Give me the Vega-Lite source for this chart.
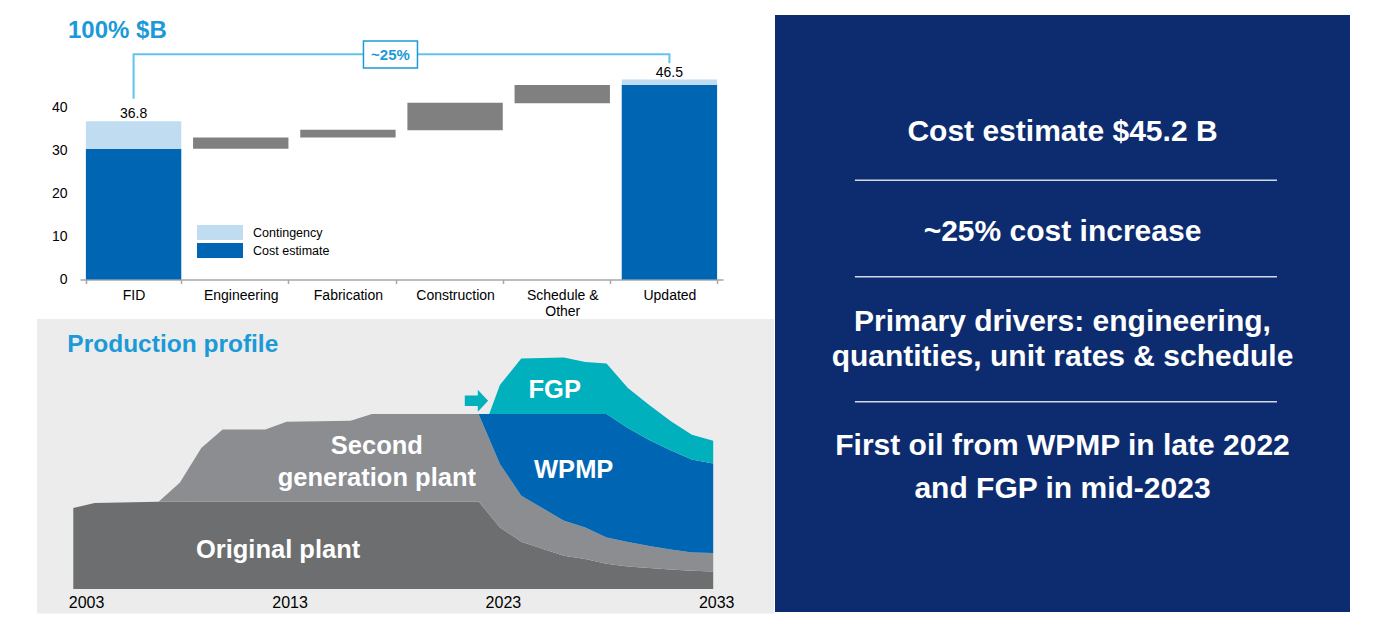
{
  "$schema": "https://vega.github.io/schema/vega-lite/v6.json",
  "background": "white",
  "padding": {"left": 37, "top": 15, "right": 0, "bottom": 0},
  "spacing": 1,
  "resolve": {"scale": {"color": "independent"}},
  "config": {"view": {"stroke": null}, "font": "Liberation Sans"},
  "datasets": {
    "wf": [
      {"cat": "FID", "lo": 0, "hi": 30.4, "kind": "Cost estimate"},
      {"cat": "FID", "lo": 30.4, "hi": 36.8, "kind": "Contingency"},
      {"cat": "Engineering", "lo": 30.4, "hi": 33.0, "kind": "Change"},
      {"cat": "Fabrication", "lo": 33.0, "hi": 34.8, "kind": "Change"},
      {"cat": "Construction", "lo": 34.7, "hi": 41.1, "kind": "Change"},
      {"cat": "Schedule & Other", "lo": 41.0, "hi": 45.2, "kind": "Change"},
      {"cat": "Updated", "lo": 0, "hi": 45.2, "kind": "Cost estimate"},
      {"cat": "Updated", "lo": 45.2, "hi": 46.5, "kind": "Contingency"}
    ],
    "wfLabels": [
      {"cat": "FID", "v": 36.8, "label": "36.8"},
      {"cat": "Updated", "v": 46.5, "label": "46.5"}
    ],
    "bracket": [
      {"cat": "FID", "v": 42.0, "o": 1},
      {"cat": "FID", "v": 52.4, "o": 2},
      {"cat": "Updated", "v": 52.4, "o": 3},
      {"cat": "Updated", "v": 50.3, "o": 4}
    ],
    "box": [{"cat": "Fabrication", "v": 52.3, "label": "~25%"}],
    "panelBg": [{"y0": 2001.3, "y1": 2035.85, "v0": -2.44, "v1": 27}],
    "prod": [
      {"year": 2003, "series": "Original plant", "k": 1, "v": 8.1},
      {"year": 2004, "series": "Original plant", "k": 1, "v": 8.6},
      {"year": 2007, "series": "Original plant", "k": 1, "v": 8.73},
      {"year": 2008, "series": "Original plant", "k": 1, "v": 8.73},
      {"year": 2009, "series": "Original plant", "k": 1, "v": 8.74},
      {"year": 2010, "series": "Original plant", "k": 1, "v": 8.75},
      {"year": 2012, "series": "Original plant", "k": 1, "v": 8.75},
      {"year": 2013, "series": "Original plant", "k": 1, "v": 8.75},
      {"year": 2016, "series": "Original plant", "k": 1, "v": 8.76},
      {"year": 2017, "series": "Original plant", "k": 1, "v": 8.76},
      {"year": 2022, "series": "Original plant", "k": 1, "v": 8.76},
      {"year": 2022.5, "series": "Original plant", "k": 1, "v": 7.46},
      {"year": 2023, "series": "Original plant", "k": 1, "v": 6.16},
      {"year": 2024, "series": "Original plant", "k": 1, "v": 4.73},
      {"year": 2026, "series": "Original plant", "k": 1, "v": 3.33},
      {"year": 2027, "series": "Original plant", "k": 1, "v": 3.0},
      {"year": 2028, "series": "Original plant", "k": 1, "v": 2.52},
      {"year": 2029, "series": "Original plant", "k": 1, "v": 2.25},
      {"year": 2030, "series": "Original plant", "k": 1, "v": 2.1},
      {"year": 2031, "series": "Original plant", "k": 1, "v": 1.95},
      {"year": 2032, "series": "Original plant", "k": 1, "v": 1.82},
      {"year": 2033, "series": "Original plant", "k": 1, "v": 1.76},
      {"year": 2003, "series": "Second generation plant", "k": 2, "v": 0},
      {"year": 2004, "series": "Second generation plant", "k": 2, "v": 0},
      {"year": 2007, "series": "Second generation plant", "k": 2, "v": 0},
      {"year": 2008, "series": "Second generation plant", "k": 2, "v": 1.93},
      {"year": 2009, "series": "Second generation plant", "k": 2, "v": 5.36},
      {"year": 2010, "series": "Second generation plant", "k": 2, "v": 7.21},
      {"year": 2012, "series": "Second generation plant", "k": 2, "v": 7.21},
      {"year": 2013, "series": "Second generation plant", "k": 2, "v": 7.98},
      {"year": 2016, "series": "Second generation plant", "k": 2, "v": 8.07},
      {"year": 2017, "series": "Second generation plant", "k": 2, "v": 8.74},
      {"year": 2022, "series": "Second generation plant", "k": 2, "v": 8.74},
      {"year": 2022.5, "series": "Second generation plant", "k": 2, "v": 7.54},
      {"year": 2023, "series": "Second generation plant", "k": 2, "v": 6.34},
      {"year": 2024, "series": "Second generation plant", "k": 2, "v": 4.6},
      {"year": 2026, "series": "Second generation plant", "k": 2, "v": 3.5},
      {"year": 2027, "series": "Second generation plant", "k": 2, "v": 3.16},
      {"year": 2028, "series": "Second generation plant", "k": 2, "v": 2.64},
      {"year": 2029, "series": "Second generation plant", "k": 2, "v": 2.45},
      {"year": 2030, "series": "Second generation plant", "k": 2, "v": 2.2},
      {"year": 2031, "series": "Second generation plant", "k": 2, "v": 2.0},
      {"year": 2032, "series": "Second generation plant", "k": 2, "v": 1.84},
      {"year": 2033, "series": "Second generation plant", "k": 2, "v": 1.84},
      {"year": 2003, "series": "WPMP", "k": 3, "v": 0},
      {"year": 2004, "series": "WPMP", "k": 3, "v": 0},
      {"year": 2007, "series": "WPMP", "k": 3, "v": 0},
      {"year": 2008, "series": "WPMP", "k": 3, "v": 0},
      {"year": 2009, "series": "WPMP", "k": 3, "v": 0},
      {"year": 2010, "series": "WPMP", "k": 3, "v": 0},
      {"year": 2012, "series": "WPMP", "k": 3, "v": 0},
      {"year": 2013, "series": "WPMP", "k": 3, "v": 0},
      {"year": 2016, "series": "WPMP", "k": 3, "v": 0},
      {"year": 2017, "series": "WPMP", "k": 3, "v": 0},
      {"year": 2022, "series": "WPMP", "k": 3, "v": 0},
      {"year": 2022.5, "series": "WPMP", "k": 3, "v": 2.5},
      {"year": 2023, "series": "WPMP", "k": 3, "v": 5.0},
      {"year": 2024, "series": "WPMP", "k": 3, "v": 8.17},
      {"year": 2026, "series": "WPMP", "k": 3, "v": 10.67},
      {"year": 2027, "series": "WPMP", "k": 3, "v": 11.34},
      {"year": 2028, "series": "WPMP", "k": 3, "v": 12.34},
      {"year": 2029, "series": "WPMP", "k": 3, "v": 11.39},
      {"year": 2030, "series": "WPMP", "k": 3, "v": 10.59},
      {"year": 2031, "series": "WPMP", "k": 3, "v": 9.92},
      {"year": 2032, "series": "WPMP", "k": 3, "v": 9.3},
      {"year": 2033, "series": "WPMP", "k": 3, "v": 8.96},
      {"year": 2003, "series": "FGP", "k": 4, "v": 0},
      {"year": 2004, "series": "FGP", "k": 4, "v": 0},
      {"year": 2007, "series": "FGP", "k": 4, "v": 0},
      {"year": 2008, "series": "FGP", "k": 4, "v": 0},
      {"year": 2009, "series": "FGP", "k": 4, "v": 0},
      {"year": 2010, "series": "FGP", "k": 4, "v": 0},
      {"year": 2012, "series": "FGP", "k": 4, "v": 0},
      {"year": 2013, "series": "FGP", "k": 4, "v": 0},
      {"year": 2016, "series": "FGP", "k": 4, "v": 0},
      {"year": 2017, "series": "FGP", "k": 4, "v": 0},
      {"year": 2022, "series": "FGP", "k": 4, "v": 0},
      {"year": 2022.5, "series": "FGP", "k": 4, "v": 0},
      {"year": 2023, "series": "FGP", "k": 4, "v": 2.9},
      {"year": 2024, "series": "FGP", "k": 4, "v": 5.56},
      {"year": 2026, "series": "FGP", "k": 4, "v": 5.66},
      {"year": 2027, "series": "FGP", "k": 4, "v": 5.2},
      {"year": 2028, "series": "FGP", "k": 4, "v": 5.06},
      {"year": 2029, "series": "FGP", "k": 4, "v": 4.01},
      {"year": 2030, "series": "FGP", "k": 4, "v": 3.51},
      {"year": 2031, "series": "FGP", "k": 4, "v": 2.93},
      {"year": 2032, "series": "FGP", "k": 4, "v": 2.47},
      {"year": 2033, "series": "FGP", "k": 4, "v": 2.27}
    ],
    "prodLabels": [
      {"year": 2017.23, "v": 14.28, "label": "Second"},
      {"year": 2017.23, "v": 11.08, "label": "generation plant"},
      {"year": 2012.6, "v": 3.88, "label": "Original plant"},
      {"year": 2026.46, "v": 11.88, "label": "WPMP"},
      {"year": 2025.57, "v": 19.88, "label": "FGP"}
    ],
    "prodTitle": [{"year": 2002.72, "v": 24.38, "label": "Production profile"}],
    "arrow": [{"year": 2021.9, "v": 18.83}],
    "panelRules": [{"p": 27.69}, {"p": 43.84}, {"p": 64.77}],
    "panelText": [
      {"t": "Cost estimate $45.2 B", "p": 19.68},
      {"t": "~25% cost increase", "p": 36.35},
      {"t": "Primary drivers: engineering,", "p": 51.37},
      {"t": "quantities, unit rates & schedule", "p": 57.24},
      {"t": "First oil from WPMP in late 2022", "p": 72.14},
      {"t": "and FGP in mid-2023", "p": 79.4}
    ]
  },
  "hconcat": [
    {
      "spacing": 0,
      "resolve": {"scale": {"color": "independent"}},
      "vconcat": [
        {
          "width": 643,
          "height": 264.5,
          "title": {"text": "100% $B", "anchor": "start", "frame": "group", "offset": -28, "dx": -12, "fontSize": 24, "fontWeight": "bold", "color": "#1b9ad7"},
          "layer": [
            {
              "data": {"name": "wf"},
              "mark": {"type": "bar"},
              "encoding": {
                "x": {
                  "field": "cat", "type": "nominal",
                  "scale": {"domain": ["FID", "Engineering", "Fabrication", "Construction", "Schedule & Other", "Updated"], "paddingInner": 0.11, "paddingOuter": 0.055},
                  "axis": {"title": null, "labelAngle": 0, "labelFontSize": 14, "labelColor": "#000", "labelPadding": 5, "domainColor": "#a6a6a6", "domainWidth": 1.5, "tickColor": "#a6a6a6", "tickWidth": 1.5, "tickSize": 4, "tickBand": "extent", "grid": false, "labelLineHeight": 16, "labelExpr": "datum.label == 'Schedule & Other' ? ['Schedule &', 'Other'] : datum.label"}
                },
                "y": {
                  "field": "lo", "type": "quantitative",
                  "scale": {"domain": [0, 61.5], "nice": false},
                  "axis": {"title": null, "values": [0, 10, 20, 30, 40], "domain": false, "ticks": false, "tickSize": 0, "grid": false, "labelFontSize": 14, "labelColor": "#000", "labelPadding": 13, "minExtent": 43, "maxExtent": 43}
                },
                "y2": {"field": "hi"},
                "color": {
                  "field": "kind", "type": "nominal",
                  "scale": {"domain": ["Contingency", "Cost estimate", "Change"], "range": ["#bfdcf1", "#0066b3", "#808080"]},
                  "legend": {"values": ["Contingency", "Cost estimate"], "title": null, "orient": "none", "legendX": 117, "legendY": 210, "padding": 0, "symbolType": "M-1,-1H5.133V1H-1Z", "symbolSize": 225, "symbolStrokeWidth": 0, "symbolOpacity": 1, "labelOffset": 41, "rowPadding": 3, "labelFontSize": 12.5, "labelColor": "#000", "labelLimit": 300}
                }
              }
            },
            {
              "data": {"name": "wfLabels"},
              "mark": {"type": "text", "baseline": "bottom", "fontSize": 14, "color": "#000"},
              "encoding": {
                "x": {"field": "cat", "type": "nominal"},
                "y": {"field": "v", "type": "quantitative"},
                "text": {"field": "label"}
              }
            },
            {
              "data": {"name": "bracket"},
              "mark": {"type": "line", "color": "#62c3ee", "strokeWidth": 2},
              "encoding": {
                "x": {"field": "cat", "type": "nominal"},
                "y": {"field": "v", "type": "quantitative"},
                "order": {"field": "o", "type": "quantitative"}
              }
            },
            {
              "data": {"name": "box"},
              "mark": {"type": "point", "shape": "M-1,-0.5H1V0.5H-1Z", "size": 2916, "filled": true, "fill": "white", "stroke": "#1b9ad7", "strokeWidth": 1.5, "opacity": 1},
              "encoding": {
                "x": {"field": "cat", "type": "nominal", "bandPosition": 0.946},
                "y": {"field": "v", "type": "quantitative"}
              }
            },
            {
              "data": {"name": "box"},
              "mark": {"type": "text", "fontSize": 15, "fontWeight": "bold", "color": "#1b9ad7", "align": "center", "baseline": "middle"},
              "encoding": {
                "x": {"field": "cat", "type": "nominal", "bandPosition": 0.946},
                "y": {"field": "v", "type": "quantitative"},
                "text": {"field": "label"}
              }
            }
          ]
        },
        {
          "width": 694,
          "height": 294.4,
          "layer": [
            {
              "data": {"name": "panelBg"},
              "mark": {"type": "rect", "color": "#ececec"},
              "encoding": {
                "x": {"field": "y0", "type": "quantitative", "scale": {"domain": [2003.314, 2035.85], "nice": false, "zero": false}, "axis": {"title": null, "values": [2003.6, 2013, 2023, 2033], "labelExpr": "format(floor(datum.value), 'd')", "domain": false, "ticks": false, "tickSize": 0, "grid": false, "zindex": 1, "labelFontSize": 16, "labelColor": "#000", "labelPadding": 0, "offset": -19, "labelFlush": false, "labelOverlap": false, "labelOffset": {"condition": {"test": "datum.value < 2004", "value": 0}, "value": 3}}},
                "x2": {"field": "y1"},
                "y": {"field": "v0", "type": "quantitative", "scale": {"domain": [-2.44, 27], "nice": false, "zero": false}, "axis": null},
                "y2": {"field": "v1"}
              }
            },
            {
              "data": {"name": "prod"},
              "mark": {"type": "area", "interpolate": "linear"},
              "encoding": {
                "x": {"field": "year", "type": "quantitative"},
                "y": {"field": "v", "type": "quantitative", "stack": "zero"},
                "color": {
                  "field": "series", "type": "nominal",
                  "scale": {"domain": ["Original plant", "Second generation plant", "WPMP", "FGP"], "range": ["#6d6e70", "#8b8d91", "#0066b3", "#00b0bd"]},
                  "legend": null
                },
                "order": {"field": "k", "type": "quantitative"}
              }
            },
            {
              "data": {"name": "prodLabels"},
              "mark": {"type": "text", "fontSize": 25.5, "fontWeight": "bold", "color": "white", "align": "center", "baseline": "middle"},
              "encoding": {
                "x": {"field": "year", "type": "quantitative"},
                "y": {"field": "v", "type": "quantitative"},
                "text": {"field": "label"}
              }
            },
            {
              "data": {"name": "prodTitle"},
              "mark": {"type": "text", "fontSize": 24.5, "fontWeight": "bold", "color": "#1b9ad7", "align": "left", "baseline": "middle"},
              "encoding": {
                "x": {"field": "year", "type": "quantitative"},
                "y": {"field": "v", "type": "quantitative"},
                "text": {"field": "label"}
              }
            },
            {
              "data": {"name": "arrow"},
              "mark": {"type": "point", "shape": "M-1,-0.455L0.116,-0.455L0.116,-0.944L1,0L0.116,0.944L0.116,0.455L-1,0.455Z", "size": 543, "filled": true, "color": "#00b0bd", "opacity": 1, "strokeWidth": 0},
              "encoding": {
                "x": {"field": "year", "type": "quantitative"},
                "y": {"field": "v", "type": "quantitative"}
              }
            }
          ]
        }
      ]
    },
    {
      "width": 575,
      "height": 597,
      "view": {"fill": "#0d2c6f", "stroke": null},
      "layer": [
        {
          "data": {"name": "panelRules"},
          "mark": {"type": "rule", "color": "#d3d9e6", "strokeWidth": 1.5},
          "encoding": {
            "x": {"datum": 13.9, "type": "quantitative", "scale": {"domain": [0, 100], "nice": false}, "axis": null},
            "x2": {"datum": 87.3},
            "y": {"field": "p", "type": "quantitative", "scale": {"domain": [0, 100], "reverse": true, "nice": false}, "axis": null}
          }
        },
        {
          "data": {"name": "panelText"},
          "mark": {"type": "text", "fontSize": 30, "fontWeight": "bold", "color": "white", "align": "center", "baseline": "middle"},
          "encoding": {
            "x": {"datum": 50, "type": "quantitative"},
            "y": {"field": "p", "type": "quantitative"},
            "text": {"field": "t"}
          }
        }
      ]
    }
  ]
}
